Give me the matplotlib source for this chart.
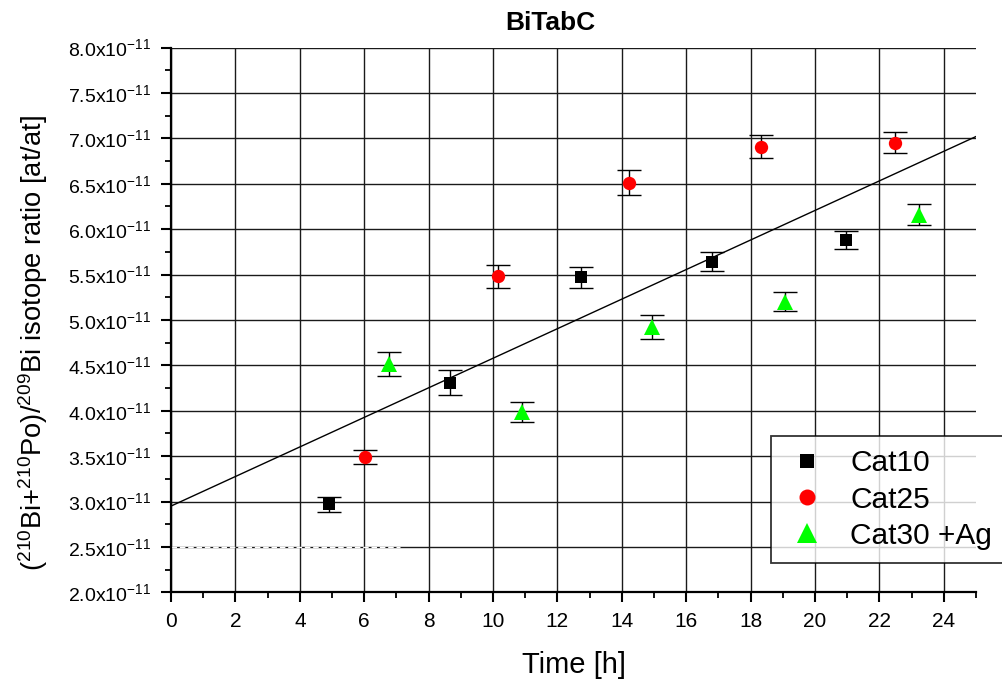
import matplotlib
matplotlib.use("Agg")
import matplotlib.pyplot as plt
from matplotlib.lines import Line2D
from matplotlib.ticker import FuncFormatter

plt.rcParams['font.family'] = ['Liberation Sans', 'DejaVu Sans']
plt.rcParams['mathtext.fontset'] = 'custom'
plt.rcParams['mathtext.rm'] = 'Liberation Sans'
plt.rcParams['mathtext.it'] = 'Liberation Sans:italic'
plt.rcParams['mathtext.bf'] = 'Liberation Sans:bold'

# data (ratio in units of 1e-11)
cat10_t = [4.90, 8.66, 12.74, 16.81, 20.97]
cat10_r = [2.97, 4.31, 5.47, 5.64, 5.88]
cat10_e = [0.084, 0.134, 0.114, 0.105, 0.097]

cat25_t = [6.03, 10.15, 14.21, 18.31, 22.48]
cat25_r = [3.49, 5.48, 6.51, 6.91, 6.95]
cat25_e = [0.078, 0.128, 0.138, 0.123, 0.117]

cat30_t = [6.77, 10.89, 14.94, 19.06, 23.24]
cat30_r = [4.52, 3.99, 4.92, 5.20, 6.16]
cat30_e = [0.132, 0.110, 0.130, 0.106, 0.114]

fit_t = [0, 25]
fit_r = [2.95, 7.02]

x_major = [0, 2, 4, 6, 8, 10, 12, 14, 16, 18, 20, 22, 24]
x_minor = [1, 3, 5, 7, 9, 11, 13, 15, 17, 19, 21, 23, 25]
y_major = [2.0, 2.5, 3.0, 3.5, 4.0, 4.5, 5.0, 5.5, 6.0, 6.5, 7.0, 7.5, 8.0]
y_minor = [2.25, 2.75, 3.25, 3.75, 4.25, 4.75, 5.25, 5.75, 6.25, 6.75, 7.25, 7.75]

scale = 1e-11

fig = plt.figure(figsize=(10.03, 6.81), dpi=100)
ax = fig.add_axes([0.1705, 0.1302, 0.8026, 0.8000])

ax.set_xlim(0, 25)
ax.set_ylim(2.0e-11, 8.0e-11)

ax.grid(True, color='#1a1a1a', linewidth=1.0)
ax.set_axisbelow(True)

# odd white dashes on the 2.5 gridline
ax.plot([0, 7.1], [2.5e-11, 2.5e-11], color='white', lw=1.0, ls=(0, (4, 2)), zorder=1.5)

ax.plot(fit_t, [v * scale for v in fit_r], color='black', lw=1.0, zorder=2)

def draw(t, r, e, marker, color, ms):
    ax.errorbar(t, [v * scale for v in r], yerr=[v * scale for v in e],
                fmt='none', ecolor='black', elinewidth=1.0, capsize=8.3,
                capthick=1.0, zorder=3)
    ax.plot(t, [v * scale for v in r], ls='none', marker=marker, color=color,
            markersize=ms, markeredgewidth=0, zorder=4)

draw(cat10_t, cat10_r, cat10_e, 's', 'black', 8.2)
draw(cat25_t, cat25_r, cat25_e, 'o', 'red', 9.6)
draw(cat30_t, cat30_r, cat30_e, '^', '#00ff00', 11.5)

for s in ['top', 'right']:
    ax.spines[s].set_visible(False)
for s in ['left', 'bottom']:
    ax.spines[s].set_linewidth(1.6)

ax.set_xticks(x_major)
ax.set_xticks(x_minor, minor=True)
ax.set_yticks([v * scale for v in y_major])
ax.set_yticks([v * scale for v in y_minor], minor=True)
ax.yaxis.set_major_formatter(FuncFormatter(lambda v, p: '%.1fx10$^{\\mathrm{-11}}$' % (v / scale)))

ax.tick_params(which='major', direction='out', length=7.5, width=1.5, pad=7)
ax.tick_params(which='minor', direction='out', length=4, width=1.3)
ax.tick_params(axis='x', labelsize=15)
ax.tick_params(axis='y', labelsize=14)

ax.set_xlabel('Time [h]', fontsize=21, labelpad=14)
ax.set_ylabel(r'($^{\mathrm{210}}$Bi+$^{\mathrm{210}}$Po)/$^{\mathrm{209}}$Bi isotope ratio [at/at]',
              fontsize=19.7)
ax.yaxis.set_label_coords(-0.150, 0.4576)
fig.text(0.549, 0.966, 'BiTabC', fontsize=19, fontweight='bold', ha='center', va='center')

handles = [
    Line2D([], [], ls='none', marker='s', color='black', markersize=10, markeredgewidth=0),
    Line2D([], [], ls='none', marker='o', color='red', markersize=11.5, markeredgewidth=0),
    Line2D([], [], ls='none', marker='^', color='#00ff00', markersize=14, markeredgewidth=0),
]
leg = ax.legend(handles, ['Cat10', 'Cat25', 'Cat30 +Ag'], loc='upper left',
                bbox_to_anchor=(771 / 1003, 1 - 436 / 681), bbox_transform=fig.transFigure,
                fontsize=21.5, frameon=True, fancybox=False, borderpad=0.45,
                handletextpad=0.7, labelspacing=0.27, handlelength=1.5, borderaxespad=0)
leg.get_frame().set_edgecolor('black')
leg.get_frame().set_linewidth(1.3)
leg.set_zorder(10)

fig.savefig('out.png', dpi=100)
